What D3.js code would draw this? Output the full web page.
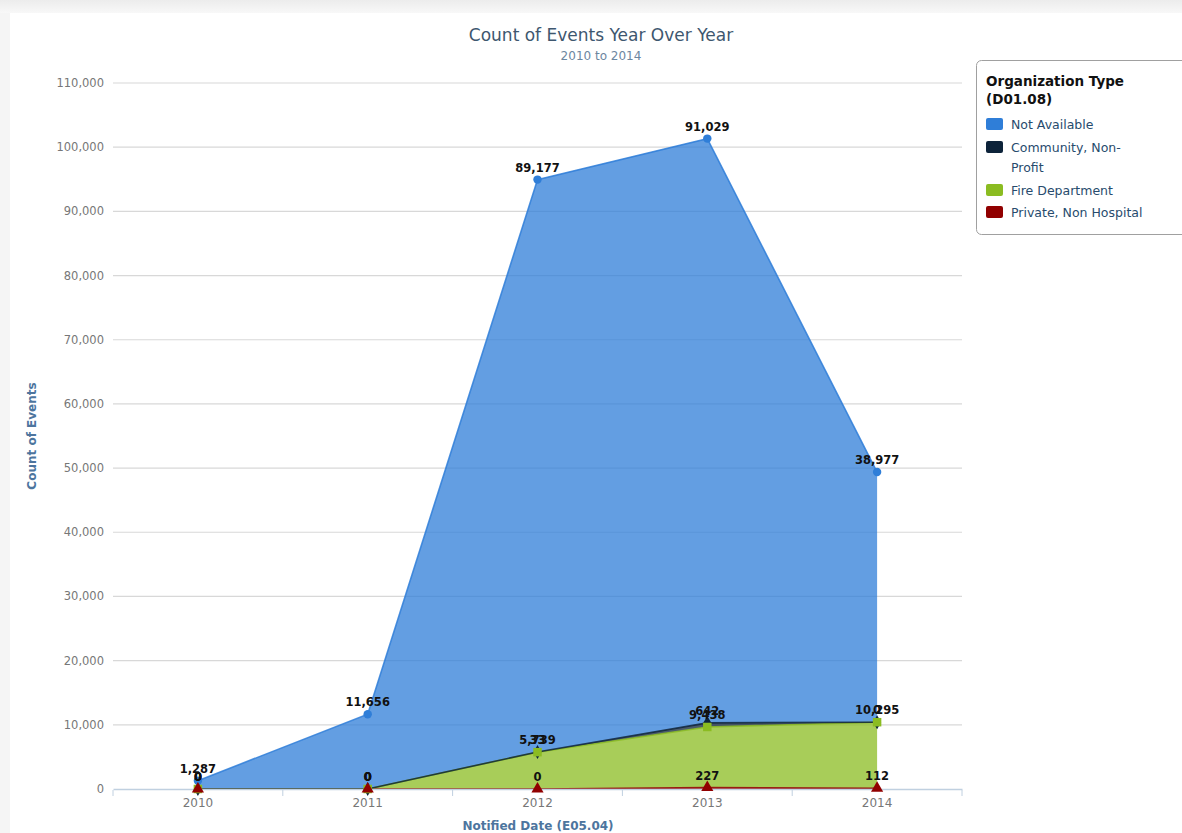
<!DOCTYPE html>
<html lang="en">
<head>
<meta charset="UTF-8">
<title>Count of Events Year Over Year</title>
<script src="https://cdn.jsdelivr.net/npm/d3@7"></script>
<style>
  body { margin: 0; background: #fff; }
  svg { display: block; font-family: "DejaVu Sans", sans-serif; }
</style>
</head>
<body>
<script>
// data
var years = ["2010", "2011", "2012", "2013", "2014"];
var notAvailable = [1287, 11656, 89177, 91029, 38977];
var community = [0, 0, 33, 642, 0];
var fireDept = [0, 0, 5739, 9438, 10295];
var privateNonHosp = [0, 0, 0, 227, 112];
var yTicks = [0, 10000, 20000, 30000, 40000, 50000, 60000, 70000, 80000, 90000, 100000, 110000];

var seriesNames = ["Not Available", "Community, Non-Profit", "Fire Department", "Private, Non Hospital"];
var seriesKeys = ["notAvailable", "community", "fireDept", "privateNonHosp"];
var colors = { notAvailable: "#2f7ed8", community: "#0d233a", fireDept: "#8bbc21", privateNonHosp: "#910000" };
var symbols = { notAvailable: d3.symbolCircle, community: d3.symbolDiamond, fireDept: d3.symbolSquare, privateNonHosp: d3.symbolTriangle };

var width = 1182, height = 833,
    plotLeft = 113, plotRight = 962, plotTop = 83, plotBottom = 789;

var table = years.map(function(yr, i) {
  return { year: yr, notAvailable: notAvailable[i], community: community[i], fireDept: fireDept[i], privateNonHosp: privateNonHosp[i] };
});

// first series sits on top, like the original
var stack = d3.stack().keys(seriesKeys.slice().reverse());
var layers = stack(table);
var byKey = {};
layers.forEach(function(l) { byKey[l.key] = l; });

var x = d3.scaleBand().domain(years).range([plotLeft, plotRight]);
var cx = function(d) { return x(d) + x.bandwidth() / 2; };
var y = d3.scaleLinear().domain([0, 110000]).range([plotBottom, plotTop]);
var fmt = d3.format(",");

var svg = d3.select("body").append("svg")
  .attr("width", width)
  .attr("height", height);

// screenshot frame
var grad = svg.append("defs").append("linearGradient")
  .attr("id", "topfade").attr("x1", 0).attr("x2", 0).attr("y1", 0).attr("y2", 1);
grad.append("stop").attr("offset", "0%").attr("stop-color", "#ececec");
grad.append("stop").attr("offset", "100%").attr("stop-color", "#f8f8f8");
svg.append("rect").attr("x", 0).attr("y", 0).attr("width", width).attr("height", 13).attr("fill", "url(#topfade)");
svg.append("rect").attr("x", 0).attr("y", 13).attr("width", 10).attr("height", height).attr("fill", "#f5f5f5");

// grid
svg.append("g")
  .selectAll("line")
  .data(yTicks.filter(function(d) { return d > 0; }))
  .enter().append("line")
  .attr("x1", plotLeft).attr("x2", plotRight)
  .attr("y1", function(d) { return y(d); })
  .attr("y2", function(d) { return y(d); })
  .attr("stroke", "#d8d8d8")
  .attr("stroke-width", 1.2);

// y labels
svg.append("g")
  .selectAll("text")
  .data(yTicks)
  .enter().append("text")
  .attr("x", 104)
  .attr("y", function(d) { return y(d) + 4; })
  .attr("text-anchor", "end")
  .attr("fill", "#777")
  .style("font-size", "11.5px")
  .text(function(d) { return fmt(d); });

// areas
var area = d3.area()
  .x(function(d) { return cx(d.data.year); })
  .y0(function(d) { return y(d[0]); })
  .y1(function(d) { return y(d[1]); });
var topLine = d3.line()
  .x(function(d) { return cx(d.data.year); })
  .y(function(d) { return y(d[1]); });

svg.append("g")
  .selectAll("path")
  .data(layers)
  .enter().append("path")
  .attr("d", area)
  .attr("fill", function(d) { return colors[d.key]; })
  .attr("fill-opacity", 0.75);

svg.append("g")
  .selectAll("path")
  .data(layers)
  .enter().append("path")
  .attr("d", topLine)
  .attr("fill", "none")
  .attr("stroke", function(d) { return colors[d.key]; })
  .attr("stroke-opacity", 0.85)
  .attr("stroke-width", 1.6);

// x axis
var xAxis = d3.axisBottom(x).tickSize(0).tickPadding(9);
var gx = svg.append("g")
  .attr("transform", "translate(0," + plotBottom + ")")
  .call(xAxis);
gx.select(".domain").attr("stroke", "#c0d0e0").attr("stroke-width", 1.5);
gx.selectAll("text").attr("fill", "#777").style("font-size", "12px").style("font-family", "DejaVu Sans, sans-serif");
gx.selectAll(".bound")
  .data(years.concat(["end"]))
  .enter().append("line")
  .attr("class", "bound")
  .attr("x1", function(d, i) { return plotLeft + i * x.bandwidth(); })
  .attr("x2", function(d, i) { return plotLeft + i * x.bandwidth(); })
  .attr("y1", 1).attr("y2", 7)
  .attr("stroke", "#c0d0e0");

// markers: community first so the fire squares cover its diamonds
var markers = svg.append("g");
["community", "notAvailable", "fireDept", "privateNonHosp"].forEach(function(k) {
  markers.selectAll(null)
    .data(byKey[k])
    .enter().append("path")
    .attr("transform", function(d) { return "translate(" + cx(d.data.year) + "," + y(d[1]) + ")"; })
    .attr("d", d3.symbol().type(symbols[k]).size(k === "fireDept" ? 72 : k === "privateNonHosp" ? 64 : 56))
    .attr("fill", colors[k]);
});

// data labels
var labels = svg.append("g");
layers.forEach(function(layer) {
  labels.selectAll(null)
    .data(layer)
    .enter().append("text")
    .attr("x", function(d) { return cx(d.data.year); })
    .attr("y", function(d) { return y(d[1]) - 8; })
    .attr("text-anchor", "middle")
    .attr("fill", "#111")
    .style("font-size", "11.5px")
    .style("font-weight", "bold")
    .text(function(d) { return fmt(d.data[layer.key]); });
});

// titles
svg.append("text")
  .attr("x", 601).attr("y", 41)
  .attr("text-anchor", "middle")
  .attr("fill", "#3e576f")
  .style("font-size", "17px")
  .text("Count of Events Year Over Year");
svg.append("text")
  .attr("x", 601).attr("y", 60)
  .attr("text-anchor", "middle")
  .attr("fill", "#6d869f")
  .style("font-size", "12px")
  .text("2010 to 2014");

svg.append("text")
  .attr("transform", "translate(36,436) rotate(-90)")
  .attr("text-anchor", "middle")
  .attr("fill", "#4d759e")
  .style("font-size", "12px")
  .style("font-weight", "bold")
  .text("Count of Events");
svg.append("text")
  .attr("x", 538).attr("y", 830)
  .attr("text-anchor", "middle")
  .attr("fill", "#4d759e")
  .style("font-size", "12px")
  .style("font-weight", "bold")
  .text("Notified Date (E05.04)");

// legend
var legend = svg.append("g");
legend.append("rect")
  .attr("x", 976.5).attr("y", 60.5)
  .attr("width", 220).attr("height", 174)
  .attr("rx", 5)
  .attr("fill", "#fff")
  .attr("stroke", "#a0a0a0");
legend.append("text")
  .attr("x", 986).attr("y", 86)
  .attr("fill", "#111")
  .style("font-size", "13.5px").style("font-weight", "bold")
  .selectAll("tspan")
  .data(["Organization Type", "(D01.08)"])
  .enter().append("tspan")
  .attr("x", 986)
  .attr("dy", function(d, i) { return i ? 18 : 0; })
  .text(function(d) { return d; });

var itemY = [128, 151, 194, 216];
var itemText = [["Not Available"], ["Community, Non-", "Profit"], ["Fire Department"], ["Private, Non Hospital"]];
seriesKeys.forEach(function(k, i) {
  legend.append("rect")
    .attr("x", 986).attr("y", itemY[i] - 10)
    .attr("width", 17).attr("height", 12)
    .attr("rx", 2)
    .attr("fill", colors[k]);
  legend.append("text")
    .attr("fill", "#274b6d")
    .style("font-size", "12.5px")
    .selectAll("tspan")
    .data(itemText[i])
    .enter().append("tspan")
    .attr("x", 1011)
    .attr("y", function(d, j) { return itemY[i] + 1 + j * 20; })
    .text(function(d) { return d; });
});
</script>
</body>
</html>
